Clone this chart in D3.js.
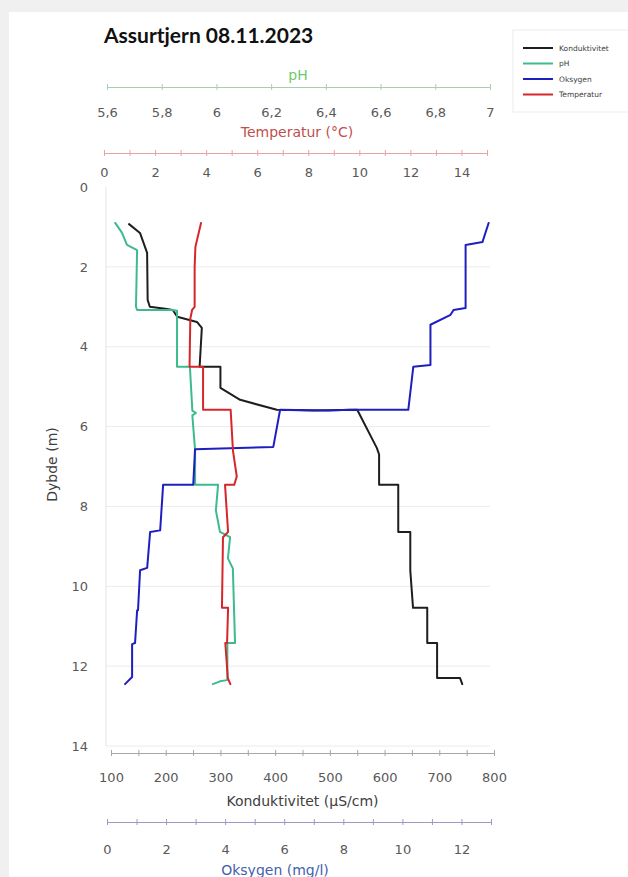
<!DOCTYPE html>
<html>
<head>
<meta charset="utf-8">
<script src="https://cdn.jsdelivr.net/npm/d3@7"></script>
<style>
  body { margin: 0; background: #f0f0f0; }
  svg { display: block; font-family: "DejaVu Sans", sans-serif; }
</style>
</head>
<body>
<div id="chart"></div>
<script>
// depth profiles, Assurtjern 08.11.2023 (depth in m, value)
var kondDepth = [0.93, 1.15, 1.65, 2.83, 3.0, 3.05, 3.08, 3.25, 3.38, 3.53, 4.5, 4.5, 5.03, 5.33, 5.58, 5.6, 5.58, 6.54, 6.7, 7.46, 7.46, 8.64, 8.64, 9.6, 10.54, 10.54, 11.42, 11.42, 12.3, 12.3, 12.45];
var kondValue = [133, 153, 166, 167, 171, 199, 213, 221, 257, 266, 262, 300, 300, 336, 403, 470, 550, 586, 590, 590, 625, 625, 647, 647, 652, 678, 678, 696, 696, 738, 742];

var phDepth = [0.9, 1.15, 1.45, 1.58, 3.0, 3.08, 3.08, 3.1, 4.5, 4.5, 5.6, 5.66, 5.72, 6.6, 7.46, 7.46, 8.1, 8.64, 8.77, 9.3, 9.55, 11.42, 11.42, 12.3, 12.35, 12.38, 12.45];
var phValue = [5.63, 5.655, 5.673, 5.71, 5.706, 5.71, 5.84, 5.856, 5.856, 5.903, 5.912, 5.925, 5.912, 5.922, 5.922, 6.006, 5.998, 6.013, 6.05, 6.042, 6.06, 6.068, 6.04, 6.04, 6.039, 6.013, 5.987];

var oksDepth = [0.9, 1.38, 1.45, 3.03, 3.08, 3.2, 3.45, 4.46, 4.5, 5.58, 5.58, 5.6, 5.58, 6.51, 6.57, 7.46, 7.46, 8.6, 8.64, 9.54, 9.6, 10.6, 10.6, 11.42, 11.45, 12.27, 12.45];
var oksValue = [12.92, 12.71, 12.14, 12.14, 11.73, 11.63, 10.95, 10.95, 10.37, 10.2, 8.2, 7.5, 5.86, 5.63, 2.98, 2.92, 1.9, 1.8, 1.46, 1.36, 1.12, 1.05, 1.02, 0.95, 0.85, 0.85, 0.61];

var tempDepth = [0.9, 1.5, 2.0, 3.0, 3.08, 3.3, 4.5, 4.5, 5.58, 5.58, 6.6, 7.25, 7.46, 7.46, 8.64, 8.77, 10.54, 10.54, 11.42, 11.42, 12.3, 12.45];
var tempValue = [3.80, 3.58, 3.55, 3.55, 3.45, 3.38, 3.35, 3.88, 3.88, 4.96, 5.05, 5.2, 5.1, 4.74, 4.86, 4.66, 4.62, 4.86, 4.82, 4.75, 4.85, 4.95];

var depthTicks = [0, 2, 4, 6, 8, 10, 12, 14];
var phTicks = [5.6, 5.8, 6, 6.2, 6.4, 6.6, 6.8, 7];
var tempTicks = d3.range(0, 16, 1);
var kondTicks = d3.range(100, 801, 50);
var oksTicks = d3.range(0, 14, 1);

var legendNames = ['Konduktivitet', 'pH', 'Oksygen', 'Temperatur'];
var colors = { kond: '#1e1e1e', ph: '#3dbb8c', oks: '#1f1fbf', temp: '#d6262b' };

var W = 628, H = 877;
var svg = d3.select('#chart').append('svg').attr('width', W).attr('height', H);

svg.append('rect').attr('width', W).attr('height', H).attr('fill', '#f0f0f0');
svg.append('rect').attr('x', 9).attr('y', 12).attr('width', W - 9).attr('height', H - 12).attr('fill', '#fff');

var plotL = 106, plotR = 490;
var y = d3.scaleLinear().domain([0, 14]).range([187, 746]);
var xK = d3.scaleLinear().domain([100, 800]).range([111, 494]);
var xO = d3.scaleLinear().domain([0, 13]).range([107, 491]);
var xT = d3.scaleLinear().domain([0, 15]).range([104, 487]);
var xP = d3.scaleLinear().domain([5.6, 7]).range([107, 490]);

//title
svg.append('text').attr('x', 104).attr('y', 43)
  .attr('font-family', 'Lato, sans-serif')
  .attr('font-size', 21).attr('font-weight', 'bold').attr('fill', '#111')
  .text('Assurtjern 08.11.2023');

//grid
svg.append('g').selectAll('line').data(depthTicks.slice(1)).enter().append('line')
  .attr('x1', plotL).attr('x2', plotR)
  .attr('y1', function(d){ return y(d); }).attr('y2', function(d){ return y(d); })
  .attr('stroke', '#ebebeb').attr('stroke-width', 1);
svg.append('line').attr('x1', plotL).attr('x2', plotL).attr('y1', y(0)).attr('y2', y(14))
  .attr('stroke', '#e4e4e4');

//y axis
var yAxis = svg.append('g').attr('transform', 'translate(88,0)')
  .call(d3.axisLeft(y).tickValues(depthTicks).tickSize(0).tickFormat(d3.format('d')));
yAxis.select('.domain').remove();
yAxis.selectAll('text').attr('font-size', 13).attr('fill', '#595959').attr('x', 0)
  .attr('font-family', '"DejaVu Sans", sans-serif');

svg.append('text').attr('transform', 'translate(57,' + y(6.95) + ') rotate(-90)')
  .attr('text-anchor', 'middle').attr('font-size', 14).attr('fill', '#404040')
  .text('Dybde (m)');

//horizontal axes
function commaFmt(d){ return String(+d.toFixed(1)).replace('.', ','); }

function hAxis(scale, yPos, ticks, labelTicks, lineColor, fmt, labelY){
  var g = svg.append('g').attr('transform', 'translate(0,' + yPos + ')')
    .call(d3.axisBottom(scale).tickValues(ticks).tickSizeOuter(0).tickSize(3)
      .tickFormat(function(d){ return labelTicks.indexOf(d) >= 0 ? fmt(d) : ''; }));
  g.select('.domain').attr('stroke', lineColor);
  g.selectAll('.tick line').attr('stroke', lineColor).attr('y1', -3).attr('y2', 3);
  g.selectAll('.tick text').attr('font-size', 13).attr('fill', '#595959')
    .attr('y', labelY).attr('dy', 0)
    .attr('font-family', '"DejaVu Sans", sans-serif');
  return g;
}

hAxis(xP, 87, phTicks, phTicks, '#a9cdb0', commaFmt, 30);
svg.append('text').attr('x', 298).attr('y', 80).attr('text-anchor', 'middle')
  .attr('font-size', 14).attr('fill', '#70c870').text('pH');
svg.append('text').attr('x', 297).attr('y', 137).attr('text-anchor', 'middle')
  .attr('font-size', 14).attr('fill', '#c0504d').text('Temperatur (°C)');

hAxis(xT, 153, tempTicks, d3.range(0, 15, 2), '#e6a3a3', d3.format('d'), 24);

hAxis(xK, 753, kondTicks, d3.range(100, 801, 100), '#a6a6a6', d3.format('d'), 29);
svg.append('text').attr('x', xK(450)).attr('y', 806).attr('text-anchor', 'middle')
  .attr('font-size', 14).attr('fill', '#404040').text('Konduktivitet (µS/cm)');

hAxis(xO, 822, oksTicks, d3.range(0, 13, 2), '#9a9ac4', d3.format('d'), 32);
svg.append('text').attr('x', 275).attr('y', 875).attr('text-anchor', 'middle')
  .attr('font-size', 14).attr('fill', '#3f62b0').text('Oksygen (mg/l)');

//profiles
function profile(depths, values, xs, color){
  var pts = depths.map(function(d, i){ return [values[i], d]; });
  var line = d3.line().x(function(p){ return xs(p[0]); }).y(function(p){ return y(p[1]); });
  svg.append('path').datum(pts).attr('d', line)
    .attr('fill', 'none').attr('stroke', color).attr('stroke-width', 2)
    .attr('stroke-linejoin', 'round').attr('stroke-linecap', 'round');
}
profile(kondDepth, kondValue, xK, colors.kond);
profile(phDepth, phValue, xP, colors.ph);
profile(oksDepth, oksValue, xO, colors.oks);
profile(tempDepth, tempValue, xT, colors.temp);

//legend
var legend = svg.append('g').attr('transform', 'translate(513,30)');
legend.append('rect').attr('width', 118).attr('height', 82)
  .attr('fill', '#fff').attr('stroke', '#ececec');
var legendColors = [colors.kond, colors.ph, colors.oks, colors.temp];
var item = legend.selectAll('g.item').data(legendNames).enter().append('g')
  .attr('class', 'item')
  .attr('transform', function(d, i){ return 'translate(0,' + (18 + i * 15.5) + ')'; });
item.append('line').attr('x1', 10).attr('x2', 40)
  .attr('stroke', function(d, i){ return legendColors[i]; }).attr('stroke-width', 2);
item.append('text').attr('x', 46).attr('dy', '0.35em').attr('font-size', 7.5)
  .attr('fill', '#404040').text(function(d){ return d; });
</script>
</body>
</html>
